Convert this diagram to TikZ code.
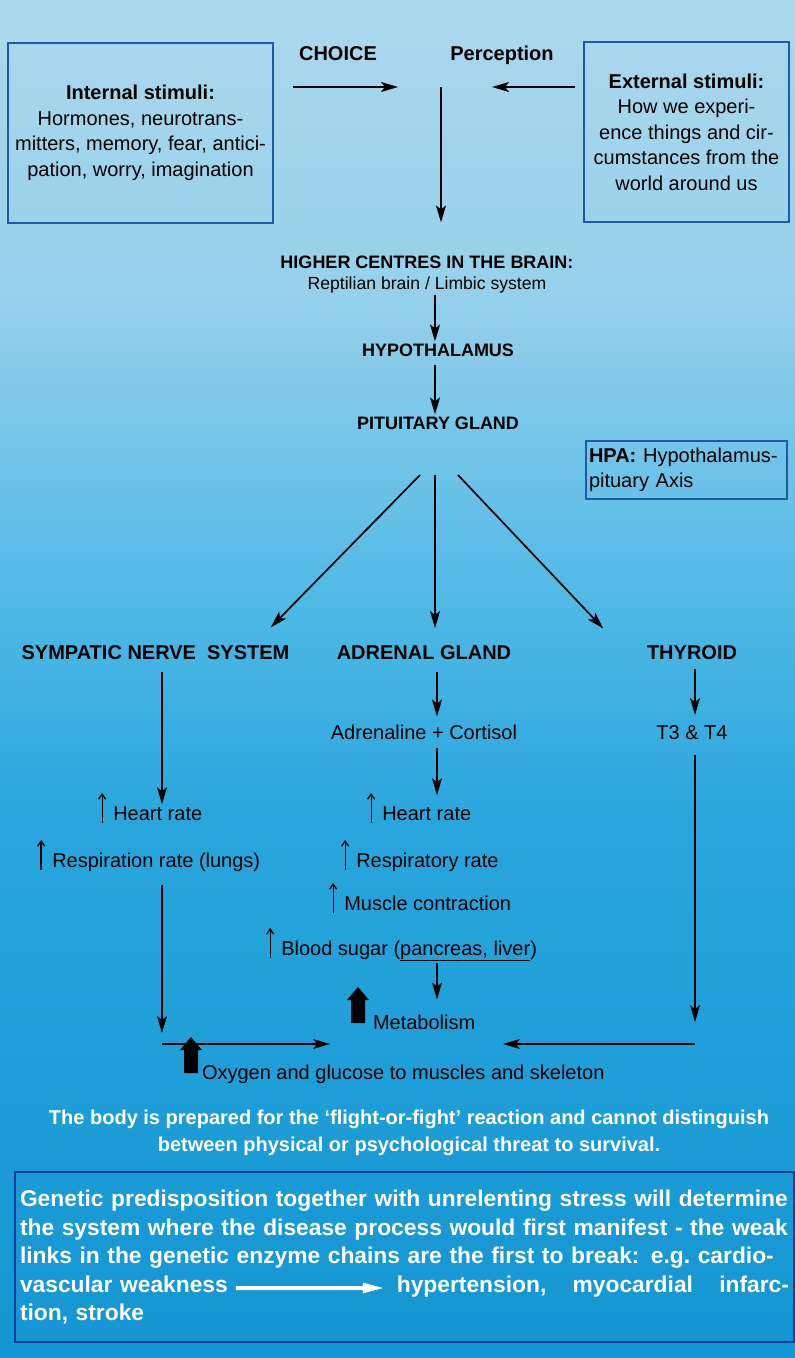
\documentclass[tikz,border=0pt]{standalone}
\usepackage{fontspec}
\setmainfont{Liberation Sans}
\usetikzlibrary{arrows.meta}
\definecolor{bgTop}{RGB}{172,216,236}
\definecolor{bgHigh}{RGB}{150,208,234}
\definecolor{bgMid}{RGB}{80,185,230}
\definecolor{bgLow}{RGB}{40,165,220}
\definecolor{bgBot}{RGB}{20,150,210}
\definecolor{frameBlue}{RGB}{30,90,165}
\definecolor{frameDeep}{RGB}{20,60,160}
\pgfdeclareverticalshading{paperBlue}{100bp}{color(0bp)=(bgBot); color(25bp)=(bgBot); color(44.5bp)=(bgLow); color(53bp)=(bgMid); color(64bp)=(bgHigh); color(75bp)=(bgTop); color(100bp)=(bgTop)}
\newcommand{\BodySize}{\fontsize{20}{25.5}\selectfont}
\newcommand{\HeadSize}{\fontsize{18}{22}\selectfont}
\newcommand{\SmallSize}{\fontsize{17.6}{21}\selectfont}
\newcommand{\NoteSize}{\fontsize{22.8}{28.5}\selectfont}
\newcommand{\UpTick}{\smash{\tikz[baseline=3pt]\draw[line width=1.3pt,-{Straight Barb[length=5pt,width=7pt]}] (0pt,0pt) -- (0pt,30pt);}\hspace{7pt}}
\newcommand{\BigUp}{\smash{\tikz[baseline=-6pt]\fill (-7pt,0pt) -- (7pt,0pt) -- (7pt,23pt) -- (11pt,23pt) -- (0pt,36pt) -- (-11pt,23pt) -- (-7pt,23pt) -- cycle;}}
\newcommand{\WhiteArrow}{\tikz[baseline=-4pt]\fill[white] (0pt,-2pt) -- (127pt,-2pt) -- (127pt,-5.5pt) -- (147pt,0pt) -- (127pt,5.5pt) -- (127pt,2pt) -- (0pt,2pt) -- cycle;}

\begin{document}
\begin{tikzpicture}[x=1pt,y=-1pt,
  flowarr/.style={line width=1.7pt,-{Stealth[length=17pt,width=10pt,inset=4pt]}},
  txtlbl/.style={inner sep=0pt,outer sep=2pt,anchor=base,font=\BodySize},
  headlbl/.style={txtlbl,font=\bfseries\BodySize},
  sublbl/.style={txtlbl,font=\bfseries\HeadSize},
  stimbox/.style={draw=frameBlue,line width=1.2pt,inner sep=0pt,align=center,font=\BodySize}]
\shade[shading=paperBlue] (0,0) rectangle (795,1358);

\node[stimbox,minimum width=265pt,minimum height=180pt] (inner) at (140.5,133) {\textbf{Internal stimuli:}\\Hormones, neurotrans-\\mitters, memory, fear, antici-\\pation, worry, imagination};
\node[stimbox,minimum width=205pt,minimum height=180pt] (outer) at (686.5,132) {\textbf{External stimuli:}\\How we experi-\\ence things and cir-\\cumstances from the\\world around us};
\node[headlbl] (choice) at (338,60) {CHOICE};
\node[headlbl] (percep) at (502,60) {Perception};
\coordinate (hub) at (441,87);

\node[sublbl] (higher) at (427,268) {HIGHER CENTRES IN THE BRAIN:};
\node[txtlbl,font=\SmallSize] (limbic) at (427,289) {Reptilian brain / Limbic system};
\node[sublbl] (hypo) at (438,356) {HYPOTHALAMUS};
\node[sublbl] (pit) at (438,429) {PITUITARY GLAND};
\node[draw=frameBlue,line width=1.2pt,inner xsep=3pt,inner ysep=0pt,text width=195pt,minimum height=58pt,align=left,font=\BodySize] (hpa) at (686.5,470) {\textbf{HPA:} Hypothalamus-\\pituary Axis};

\coordinate (forkL) at (420,475);
\coordinate (forkM) at (435,475);
\coordinate (forkR) at (458,475);

\node[headlbl] (symp) at (155.5,659) {SYMPATIC NERVE\ \ SYSTEM};
\node[headlbl] (adrenal) at (424,659) {ADRENAL GLAND};
\node[headlbl] (thyroid) at (692,659) {THYROID};
\node[txtlbl] (adrcort) at (424,739) {Adrenaline + Cortisol};
\node[txtlbl] (t3) at (692,739) {T3 \& T4};

\node[txtlbl,anchor=base west] (hr1) at (96,820) {\UpTick Heart rate};
\node[txtlbl,anchor=base west] (resp1) at (35,867) {\UpTick Respiration rate (lungs)};
\node[txtlbl,anchor=base west] (hr2) at (365,820) {\UpTick Heart rate};
\node[txtlbl,anchor=base west] (resp2) at (339,867) {\UpTick Respiratory rate};
\node[txtlbl,anchor=base west] (muscle) at (327,910) {\UpTick Muscle contraction};
\node[txtlbl,anchor=base west] (blood) at (264,955) {\UpTick Blood sugar (\underline{pancreas, liver})};
\node[txtlbl,anchor=base west] (metab) at (345,1029) {\BigUp\hspace{4pt}Metabolism};

\coordinate (cornerL) at (162,1044);
\coordinate (cornerR) at (695,1044);
\coordinate (merge) at (416,1044);

\draw[flowarr,shorten <=19pt,shorten >=43pt] (inner.east |- hub) -- (hub);
\draw[flowarr,shorten <=8pt,shorten >=51pt] (outer.west |- hub) -- (hub);
\draw[flowarr,shorten >=31pt] (hub) -- (hub |- higher.north);
\draw[flowarr] (limbic.south -| forkM) -- (hypo.north -| forkM);
\draw[flowarr,shorten <=7pt] (hypo.south -| forkM) -- (pit.north -| forkM);
\draw[flowarr,shorten >=22pt] (forkL) -- ([xshift=-36pt]symp.north east);
\draw[flowarr,shorten >=15pt] (forkM) -- (forkM |- adrenal.north);
\draw[flowarr,shorten >=20pt] (forkR) -- ([xshift=-28pt]thyroid.north west);

\draw[flowarr,shorten <=11pt] (cornerL |- symp.south) -- (cornerL |- hr1.north);
\draw[flowarr,shorten <=12pt,shorten >=11pt] (cornerL |- resp1.south) -- (cornerL);
\draw[flowarr,shorten <=11pt,shorten >=6pt] ([xshift=2pt]forkM |- adrenal.south) -- ([xshift=2pt]forkM |- adrcort.north);
\draw[flowarr,shorten <=7pt,shorten >=9pt] ([xshift=2pt]forkM |- adrcort.south) -- ([xshift=2pt]forkM |- hr2.north);
\draw[flowarr,shorten >=13pt] ([xshift=2pt]forkM |- blood.south) -- ([xshift=2pt]forkM |- metab.north);
\draw[flowarr,shorten <=8pt,shorten >=8pt] (cornerR |- thyroid.south) -- (cornerR |- t3.north);
\draw[flowarr,shorten <=14pt,shorten >=22pt] (cornerR |- t3.south) -- (cornerR);
\draw[flowarr,shorten >=86pt] (cornerL) -- (merge);
\draw[flowarr,shorten >=87pt] (cornerR) -- (merge);

\node[txtlbl,anchor=base west] (oxy) at (178,1079) {\BigUp Oxygen and glucose to muscles and skeleton};

\node[align=center,text=white,font=\bfseries\fontsize{20}{27}\selectfont] (threat) at (409,1133) {The body is prepared for the `flight-or-fight' reaction and cannot distinguish\\between physical or psychological threat to survival.};
\node[draw=frameDeep,line width=1.5pt,inner xsep=5pt,inner ysep=0pt,text width=769pt,minimum height=170pt,align=left,text=white,font=\bfseries\NoteSize] (genetic) at (404.5,1257) {%
\makebox[769pt][s]{Genetic predisposition together with unrelenting stress will determine}\\
\makebox[769pt][s]{the system where the disease process would first manifest - the weak}\\
\makebox[769pt][s]{links in the genetic enzyme chains are the first to break: e.g.\ cardio-}\\
\makebox[769pt][l]{vascular weakness\hspace{8pt}\WhiteArrow\hspace{14pt}hypertension,\hfill myocardial\hfill infarc-}\\
tion, stroke};
\end{tikzpicture}
\end{document}
